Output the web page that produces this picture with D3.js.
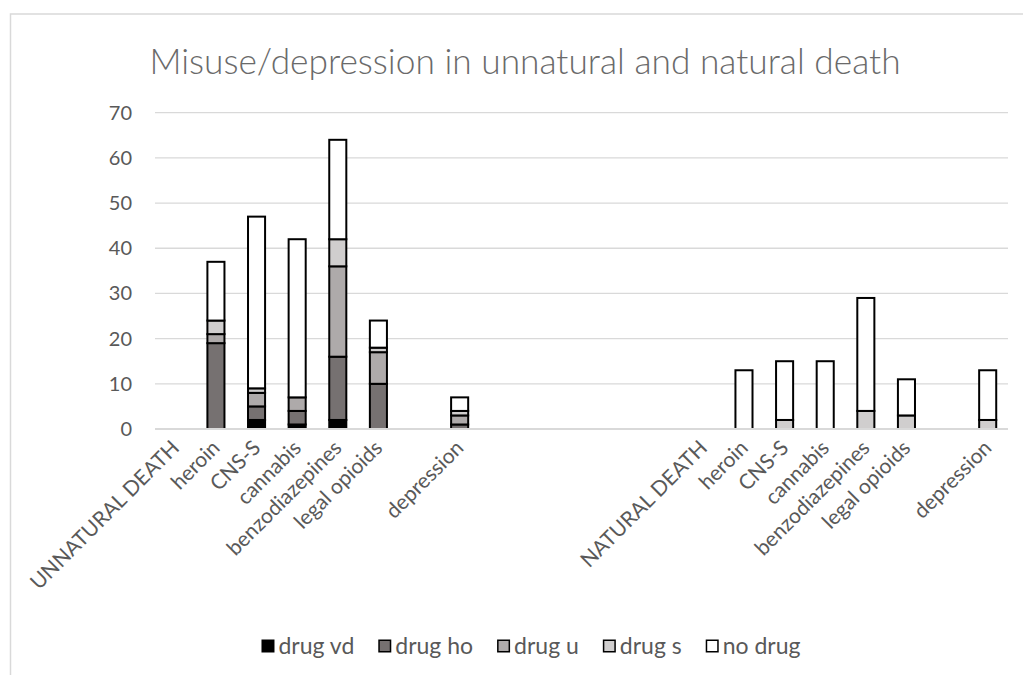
<!DOCTYPE html>
<html>
<head>
<meta charset="utf-8">
<script src="https://cdn.jsdelivr.net/npm/d3@7"></script>
<style>
  html, body { margin: 0; padding: 0; background: #fff; }
  svg { display: block; font-family: Lato, "Open Sans", sans-serif; }
</style>
</head>
<body>
<svg id="chart" width="1023" height="675"></svg>
<script>
// Category slots along the x axis (blank slots keep the grouping gaps)
const categories = [
  "UNNATURAL DEATH", "heroin", "CNS-S", "cannabis", "benzodiazepines", "legal opioids", "",
  "depression", "", "", "", "", "",
  "NATURAL DEATH", "heroin", "CNS-S", "cannabis", "benzodiazepines", "legal opioids", "",
  "depression"
];

// Stacked series values, one per slot
const drugVd  = [0, 0, 2, 1,  2,  0, 0, 0, 0, 0, 0, 0, 0, 0,  0,  0,  0,  0, 0, 0,  0];
const drugHo  = [0, 19, 3, 3, 14, 10, 0, 1, 0, 0, 0, 0, 0, 0,  0,  0,  0,  0, 0, 0,  0];
const drugU   = [0, 2, 3, 3, 20,  7, 0, 2, 0, 0, 0, 0, 0, 0,  0,  0,  0,  0, 0, 0,  0];
const drugS   = [0, 3, 1, 0,  6,  1, 0, 1, 0, 0, 0, 0, 0, 0,  0,  2,  0,  4, 3, 0,  2];
const noDrug  = [0, 13, 38, 35, 22, 6, 0, 3, 0, 0, 0, 0, 0, 0, 13, 13, 15, 25, 8, 0, 11];

const seriesNames = ["drug vd", "drug ho", "drug u", "drug s", "no drug"];
const seriesColors = ["#000000", "#767171", "#AEAAAA", "#D0CECE", "#FFFFFF"];
const yTicks = [0, 10, 20, 30, 40, 50, 60, 70];
const titleText = "Misuse/depression in unnatural and natural death";

const svg = d3.select("#chart");
const plot = { left: 155, right: 1008, top: 112.7, bottom: 429 };

// Chart frame
svg.append("rect")
  .attr("x", 10.5).attr("y", 14)
  .attr("width", 1200).attr("height", 1000)
  .attr("fill", "none").attr("stroke", "#d9d9d9").attr("stroke-width", 1.5);

// Title
svg.append("text")
  .attr("x", 525).attr("y", 74)
  .attr("text-anchor", "middle")
  .attr("fill", "#6a6a6a")
  .attr("font-size", 35.3)
  .attr("font-weight", 300)
  .text(titleText);

const slots = d3.range(categories.length);
const x = d3.scaleBand().domain(slots)
  .range([plot.left, plot.right])
  .paddingInner(0.58).paddingOuter(0.29);
const y = d3.scaleLinear().domain([0, 70]).range([plot.bottom, plot.top]);

// Horizontal gridlines
svg.append("g").selectAll("line").data(yTicks.filter(t => t > 0)).join("line")
  .attr("x1", plot.left).attr("x2", plot.right)
  .attr("y1", d => y(d)).attr("y2", d => y(d))
  .attr("stroke", "#d9d9d9").attr("stroke-width", 1.3);

// Y axis labels
const yAxis = svg.append("g")
  .attr("transform", `translate(${plot.left},0)`)
  .call(d3.axisLeft(y).tickValues(yTicks).tickSize(0).tickPadding(23));
yAxis.select(".domain").remove();
yAxis.selectAll("text")
  .attr("fill", "#595959").attr("font-size", 20)
  .attr("font-family", "Lato, sans-serif");

// Stacked bars
const rows = slots.map(i => ({
  i, "drug vd": drugVd[i], "drug ho": drugHo[i], "drug u": drugU[i],
  "drug s": drugS[i], "no drug": noDrug[i]
}));
const stacked = d3.stack().keys(seriesNames)(rows);

svg.append("g").selectAll("g").data(stacked).join("g")
  .attr("fill", (d, k) => seriesColors[k])
  .selectAll("rect")
  .data(d => d.filter(s => s[1] - s[0] > 0))
  .join("rect")
  .attr("x", d => x(d.data.i))
  .attr("width", x.bandwidth())
  .attr("y", d => y(d[1]))
  .attr("height", d => y(d[0]) - y(d[1]))
  .attr("stroke", "#000").attr("stroke-width", 2);

// Baseline
svg.append("line")
  .attr("x1", plot.left).attr("x2", plot.right)
  .attr("y1", y(0)).attr("y2", y(0))
  .attr("stroke", "#d9d9d9").attr("stroke-width", 1.8);

// X axis labels, rotated
svg.append("g").selectAll("text")
  .data(slots.filter(i => categories[i] !== ""))
  .join("text")
  .attr("transform", i => `translate(${x(i) + x.bandwidth() / 2},${plot.bottom + 15}) rotate(-45)`)
  .attr("text-anchor", "end")
  .attr("dy", "0.35em")
  .attr("fill", "#595959")
  .attr("font-size", 21)
  .text(i => categories[i]);

// Legend
const legend = svg.append("g");
const sq = 13, gapText = 4, gapItem = 24;
let lx = 0;
seriesNames.forEach((name, k) => {
  const g = legend.append("g");
  g.append("rect")
    .attr("x", 0.75).attr("y", -sq / 2 + 0.75).attr("width", sq - 1.5).attr("height", sq - 1.5)
    .attr("fill", seriesColors[k]).attr("stroke", "#000").attr("stroke-width", 1.5);
  const t = g.append("text")
    .attr("x", sq + gapText).attr("dy", "0.35em")
    .attr("fill", "#595959").attr("font-size", 23)
    .text(name);
  const w = sq + gapText + t.node().getComputedTextLength();
  g.attr("transform", `translate(${lx},0)`);
  lx += w + gapItem;
});
const totalW = lx - gapItem;
legend.attr("transform", `translate(${531 - totalW / 2},646)`);
</script>
</body>
</html>
